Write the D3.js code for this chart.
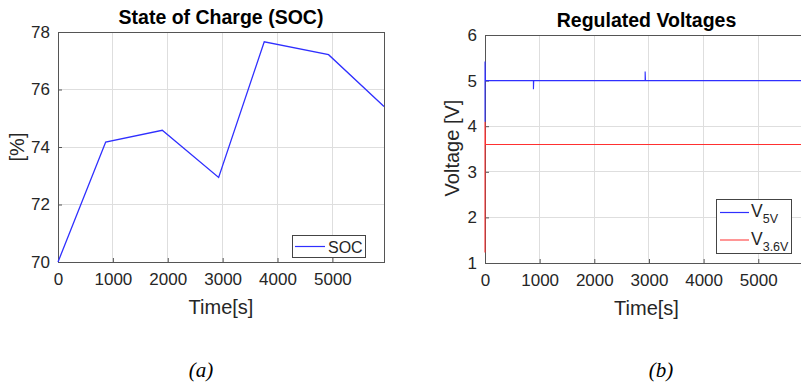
<!DOCTYPE html>
<html><head><meta charset="utf-8">
<script src="https://cdn.jsdelivr.net/npm/d3@7"></script>
<style>body{margin:0;background:#fff}svg{display:block}</style>
</head><body>
<svg id="c" width="801" height="384"></svg>
<script>
// SOC chart data
const socTime = [0, 869, 1900, 2927, 3758, 4930, 5940];
const socValue = [70, 74.17, 74.58, 72.94, 77.66, 77.21, 75.41];
const socXTicks = [0, 1000, 2000, 3000, 4000, 5000];
const socYTicks = [70, 72, 74, 76, 78];

// Regulated voltages data
const v5Time = [0, 0, 8, 880, 886, 886, 892, 2925, 2930, 2930, 2936, 5800];
const v5Value = [4.1, 5.42, 5.0, 5.0, 5.0, 4.81, 5.0, 5.0, 5.0, 5.2, 5.0, 5.0];
const v36Time = [0, 0, 8, 5800];
const v36Value = [1.23, 4.1, 3.6, 3.6];
const vXTicks = [0, 1000, 2000, 3000, 4000, 5000];
const vYTicks = [1, 2, 3, 4, 5, 6];

const svg = d3.select("#c");
const font = "Arial, 'Liberation Sans', Helvetica, sans-serif";
const tickColor = "#262626";

function panel(o) {
  const g = svg.append("g");
  const x = d3.scaleLinear().domain(o.xDomain).range([o.left, o.right]);
  const y = d3.scaleLinear().domain(o.yDomain).range([o.bottom, o.top]);
  // grid
  g.append("g").selectAll("line.gx").data(o.xTicks.filter(t => t > o.xDomain[0])).join("line")
    .attr("x1", d => x(d)).attr("x2", d => x(d)).attr("y1", o.top).attr("y2", o.bottom)
    .attr("stroke", "#dedede").attr("stroke-width", 1).attr("shape-rendering", "crispEdges");
  g.append("g").selectAll("line.gy").data(o.yTicks.filter(t => t > o.yDomain[0] && t < o.yDomain[1])).join("line")
    .attr("x1", o.left).attr("x2", o.right).attr("y1", d => y(d)).attr("y2", d => y(d))
    .attr("stroke", "#dedede").attr("stroke-width", 1).attr("shape-rendering", "crispEdges");
  // frame
  g.append("rect").attr("x", o.left).attr("y", o.top).attr("width", o.right - o.left).attr("height", o.bottom - o.top)
    .attr("fill", "none").attr("stroke", "#555").attr("stroke-width", 1).attr("shape-rendering", "crispEdges");
  // axes
  const ax = d3.axisBottom(x).tickValues(o.xTicks).tickSize(-4).tickPadding(11).tickFormat(d3.format("d"));
  const gx = g.append("g").attr("transform", `translate(0,${o.bottom})`).call(ax);
  const ay = d3.axisLeft(y).tickValues(o.yTicks).tickSize(-4).tickPadding(8).tickFormat(d3.format("d"));
  const gy = g.append("g").attr("transform", `translate(${o.left},0)`).call(ay);
  [gx, gy].forEach(a => {
    a.select(".domain").remove();
    a.selectAll(".tick line").attr("stroke", "#555");
    a.selectAll("text").attr("font-family", font).attr("font-size", 17).attr("fill", tickColor);
  });
  // title
  g.append("text").attr("x", (o.left + o.titleRight) / 2).attr("y", o.top - 8).attr("text-anchor", "middle")
    .attr("font-family", font).attr("font-weight", "bold").attr("font-size", 19.5).attr("fill", "#000").text(o.title);
  // x label
  g.append("text").attr("x", (o.left + o.titleRight) / 2).attr("y", o.bottom + 52).attr("text-anchor", "middle")
    .attr("font-family", font).attr("font-size", 20).attr("fill", tickColor).text("Time[s]");
  // y label
  g.append("text").attr("transform", `translate(${o.ylabX},${o.ylabY}) rotate(-90)`)
    .attr("text-anchor", "middle").attr("font-family", font).attr("font-size", 20).attr("fill", tickColor).text(o.ylabel);
  // caption
  g.append("text").attr("x", o.capX).attr("y", 377).attr("text-anchor", "middle")
    .attr("font-family", "'Liberation Serif', 'Times New Roman', serif").attr("font-style", "italic")
    .attr("font-size", 21).attr("fill", "#000").text(o.caption);
  return {g, x, y};
}

// Panel (a)
const A = panel({left: 58, right: 384, top: 32, bottom: 262, titleRight: 384,
  xDomain: [0, 5940], yDomain: [70, 78], xTicks: socXTicks, yTicks: socYTicks,
  title: "State of Charge (SOC)", ylabel: "[%]", ylabX: 24, ylabY: 147, capX: 201, caption: "(a)"});
const lineA = d3.line().x(d => A.x(d[0])).y(d => A.y(d[1]));
A.g.append("path").datum(socTime.map((t, i) => [t, socValue[i]])).attr("d", lineA)
  .attr("fill", "none").attr("stroke", "#2f2fff").attr("stroke-width", 1.3);
// legend (a)
const la = A.g.append("g");
la.append("rect").attr("x", 292.5).attr("y", 235.5).attr("width", 73).attr("height", 22)
  .attr("fill", "#fff").attr("stroke", "#444").attr("stroke-width", 1);
la.append("line").attr("x1", 295).attr("x2", 325).attr("y1", 246.5).attr("y2", 246.5)
  .attr("stroke", "#2f2fff").attr("stroke-width", 1.2);
la.append("text").attr("x", 328).attr("y", 252.5).attr("font-family", font).attr("font-size", 16)
  .attr("fill", tickColor).text("SOC");

// Panel (b)
const B = panel({left: 485, right: 802, top: 35, bottom: 263, titleRight: 808,
  xDomain: [0, 5800], yDomain: [1, 6], xTicks: vXTicks, yTicks: vYTicks,
  title: "Regulated Voltages", ylabel: "Voltage [V]", ylabX: 459, ylabY: 148, capX: 661, caption: "(b)"});
const lineB = d3.line().x(d => B.x(d[0])).y(d => B.y(d[1]));
B.g.append("path").datum(v36Time.map((t, i) => [t, v36Value[i]])).attr("d", lineB)
  .attr("fill", "none").attr("stroke", "#ff3030").attr("stroke-width", 1.1);
B.g.append("path").datum(v5Time.map((t, i) => [t, v5Value[i]])).attr("d", lineB)
  .attr("fill", "none").attr("stroke", "#2f2fff").attr("stroke-width", 1.1);
// legend (b)
const lb = B.g.append("g");
lb.append("rect").attr("x", 716.5).attr("y", 199.5).attr("width", 75).attr("height", 54)
  .attr("fill", "#fff").attr("stroke", "#444").attr("stroke-width", 1);
const legB = [{c: "#2f2fff", sub: "5V", y: 212.5}, {c: "#ff5050", sub: "3.6V", y: 240}];
legB.forEach(d => {
  lb.append("line").attr("x1", 720).attr("x2", 749).attr("y1", d.y).attr("y2", d.y)
    .attr("stroke", d.c).attr("stroke-width", 1.2);
  const t = lb.append("text").attr("x", 751).attr("y", d.y + 4.5).attr("font-family", font)
    .attr("font-size", 17.5).attr("fill", tickColor);
  t.append("tspan").text("V");
  t.append("tspan").attr("dy", 6).attr("font-size", 12.5).text(d.sub);
});
</script>
</body></html>
